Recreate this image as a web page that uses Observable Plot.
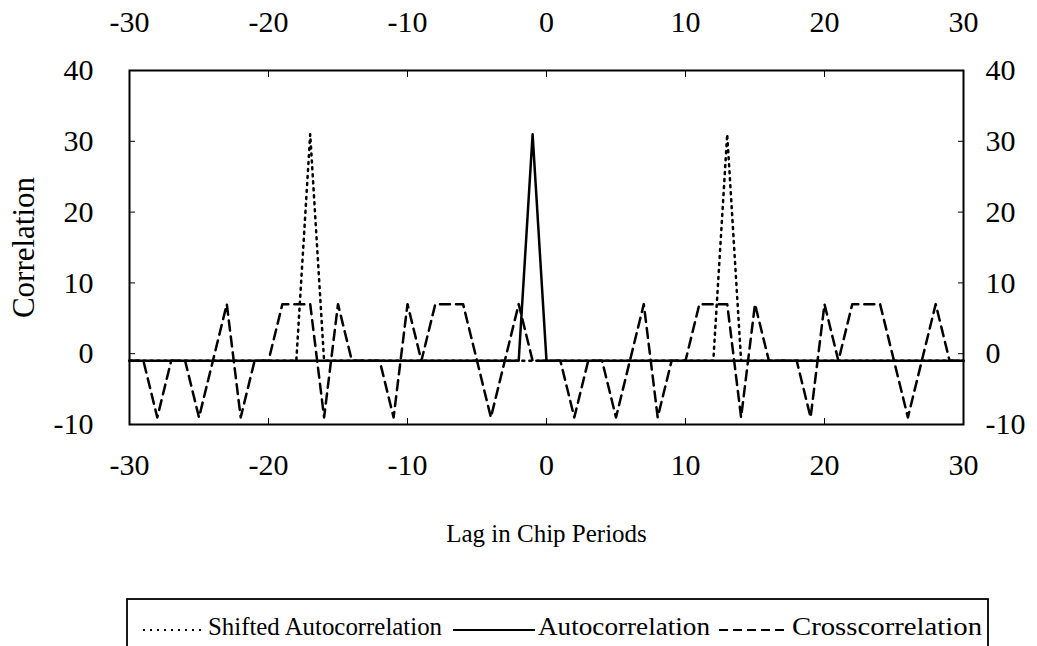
<!DOCTYPE html>
<html><head><meta charset="utf-8">
<script src="https://cdn.jsdelivr.net/npm/d3@7"></script>
<script src="https://cdn.jsdelivr.net/npm/@observablehq/plot@0.6"></script>
<style>
body{margin:0;background:#fff;font-family:"Liberation Serif","DejaVu Serif",serif;overflow:hidden;}
#chart{height:598px;}
#legend svg{display:block;margin-left:126px;}
</style></head><body>
<div id="chart"></div>
<div id="legend"></div>
<script>
const lags = [-30,-29,-28,-27,-26,-25,-24,-23,-22,-21,-20,-19,-18,-17,-16,-15,-14,-13,-12,-11,-10,-9,-8,-7,-6,-5,-4,-3,-2,-1,0,1,2,3,4,5,6,7,8,9,10,11,12,13,14,15,16,17,18,19,20,21,22,23,24,25,26,27,28,29,30];
const crosscorrelation = [-1,-1,-9,-1,-1,-9,-1,7,-9,-1,-1,7,7,7,-9,7,-1,-1,-1,-9,7,-1,7,7,7,-1,-9,-1,7,-1,-1,-1,-9,-1,-1,-9,-1,7,-9,-1,-1,7,7,7,-9,7,-1,-1,-1,-9,7,-1,7,7,7,-1,-9,-1,7,-1,-1];
const autocorrelation = [-1,-1,-1,-1,-1,-1,-1,-1,-1,-1,-1,-1,-1,-1,-1,-1,-1,-1,-1,-1,-1,-1,-1,-1,-1,-1,-1,-1,-1,31,-1,-1,-1,-1,-1,-1,-1,-1,-1,-1,-1,-1,-1,-1,-1,-1,-1,-1,-1,-1,-1,-1,-1,-1,-1,-1,-1,-1,-1,-1,-1];
const shiftedAutocorrelation = [-1,-1,-1,-1,-1,-1,-1,-1,-1,-1,-1,-1,-1,31,-1,-1,-1,-1,-1,-1,-1,-1,-1,-1,-1,-1,-1,-1,-1,-1,-1,-1,-1,-1,-1,-1,-1,-1,-1,-1,-1,-1,-1,31,-1,-1,-1,-1,-1,-1,-1,-1,-1,-1,-1,-1,-1,-1,-1,-1,-1];
const xTicks = [-30,-20,-10,0,10,20,30];
const yTicks = [-10,0,10,20,30,40];
const seriesNames = ["Shifted Autocorrelation","Autocorrelation","Crosscorrelation"];

const rows = lags.map((l,i)=>({lag:l, cross:crosscorrelation[i], auto:autocorrelation[i], shifted:shiftedAutocorrelation[i]}));

const chart = Plot.plot({
  width:1037, height:598,
  marginLeft:129, marginRight:74, marginTop:70, marginBottom:174,
  style:{fontFamily:"'Liberation Serif', serif", fontSize:"30px", color:"black", background:"white"},
  x:{domain:[-30,30]},
  y:{domain:[-10,40]},
  marks:[
    Plot.axisX({anchor:"bottom", ticks:xTicks, tickSize:-6, tickPadding:35, tickFormat:d=>String(d), label:null}),
    Plot.axisX({anchor:"bottom", ticks:[], tickSize:0, label:"Lag in Chip Periods", labelAnchor:"center", labelOffset:117, labelArrow:"none", fontSize:25}),
    Plot.axisX({anchor:"top", ticks:xTicks, tickSize:-6, tickPadding:45, tickFormat:d=>String(d), label:null}),
    Plot.axisY({anchor:"left", ticks:yTicks, tickSize:-6, tickPadding:42, tickFormat:d=>String(d), label:null}),
    Plot.axisY({anchor:"left", ticks:[], tickSize:0, label:"Correlation", labelAnchor:"center", labelOffset:118, labelArrow:"none", fontSize:31}),
    Plot.axisY({anchor:"right", ticks:yTicks, tickSize:-6, tickPadding:28, tickFormat:d=>String(d), label:null}),
    Plot.line(rows, {x:"lag", y:"auto", stroke:"black", strokeWidth:2.5}),
    Plot.line(rows, {x:"lag", y:"cross", stroke:"black", strokeWidth:2.5, strokeDasharray:"10,6"}),
    Plot.line(rows, {x:"lag", y:"shifted", stroke:"black", strokeWidth:2.5, strokeDasharray:"2,5"}),
    Plot.frame({stroke:"black", strokeWidth:2})
  ]
});
document.getElementById("chart").append(chart);

// legend box (series names from the data arrays above)
const items = [
  {name:seriesNames[0], dash:"2,5", sx:17, sw:62, tx:82, tw:234},
  {name:seriesNames[1], dash:null, sx:327, sw:82, tx:412, tw:172},
  {name:seriesNames[2], dash:"9,5", sx:593, sw:70, tx:666, tw:190}
];
const lg = d3.create("svg").attr("width",863).attr("height",48);
lg.append("rect").attr("x",1).attr("y",1).attr("width",861).attr("height",52)
  .attr("fill","none").attr("stroke","black").attr("stroke-width",1.8);
for (const it of items) {
  lg.append("line").attr("x1",it.sx).attr("x2",it.sx+it.sw).attr("y1",32).attr("y2",32)
    .attr("stroke","black").attr("stroke-width",2).attr("stroke-dasharray",it.dash);
  lg.append("text").attr("x",it.tx).attr("y",37).attr("font-size",26)
    .attr("font-family","'Liberation Serif', serif")
    .attr("textLength",it.tw).attr("lengthAdjust","spacingAndGlyphs").text(it.name);
}
document.getElementById("legend").append(lg.node());
</script>
</body></html>
